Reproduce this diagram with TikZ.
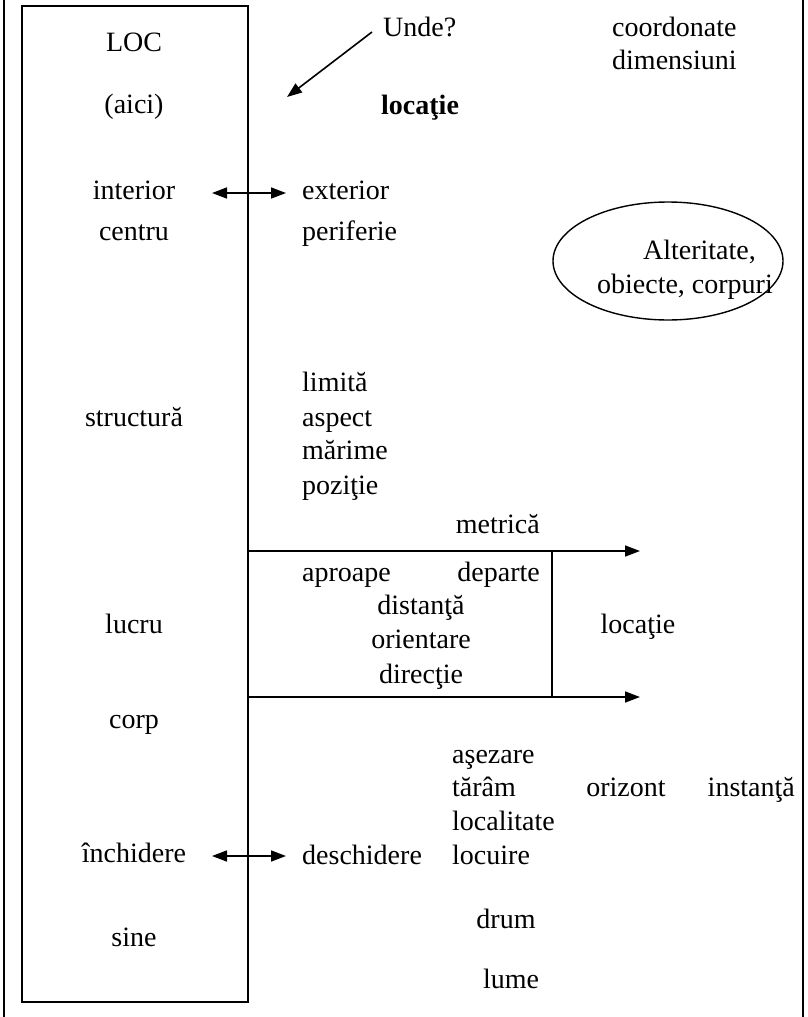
\documentclass[tikz,border=0pt]{standalone}
\usepackage{fontspec}
\setmainfont{Liberation Serif}
\usetikzlibrary{arrows.meta,shapes.geometric,positioning}
\tikzset{>={Triangle[length=15pt,width=11pt]}}
\tikzset{
  word/.style={inner sep=0pt, font=\fontsize{28}{33}\selectfont, text height=19pt, text depth=6pt},
  wleft/.style={word, anchor=west},
  wright/.style={word, anchor=east},
  pointer/.style={->, line width=1.6pt},
  twoway/.style={<->, line width=1.6pt}
}
\begin{document}
\begin{tikzpicture}[x=1pt,y=-1pt]
\useasboundingbox (0,0) rectangle (807,1017);
% outer frame
\draw[line width=1.2pt] (4,0) -- (4,1017);
\draw[line width=1.2pt] (803,0) -- (803,1017);
% LOC box
\draw[line width=1.6pt] (22,6) rectangle (248,1002);
\node[word] (loc) at (134,45) {LOC};
\node[word] (aici) at (134,107) {(aici)};
\node[word] (interior) at (134,193) {interior};
\node[word] (centru) at (134,234) {centru};
\node[word] (structura) at (134,420) {structură};
\node[word] (lucru) at (134,627) {lucru};
\node[word] (corp) at (134,722) {corp};
\node[word] (inchidere) at (134,856) {închidere};
\node[word] (sine) at (134,940) {sine};

% top right
\node[wleft] (unde) at (383,30) {Unde?};
\node[wleft] (coord) at (612,30) {coordonate};
\node[wleft] (dimens) at (612,63) {dimensiuni};
\node[wleft, font=\fontsize{28}{33}\selectfont\bfseries] (locatie) at (381,108) {locaţie};
\coordinate (undeA) at (372,32);
\coordinate (undeB) at (287,97);
\draw[pointer] (undeA) -- (undeB);

\node[wleft] (exterior) at (302,193) {exterior};
\node[wleft] (periferie) at (302,234) {periferie};
\coordinate (ieL) at (212,193);
\coordinate (ieR) at (286,193);
\draw[twoway] (ieL) -- (ieR);

% alteritate
\node[draw, ellipse, line width=1.4pt, minimum width=230pt, minimum height=118pt] (alter) at (668,261) {};
\node[wright] (alt1) at (756,253) {Alteritate,};
\node[wright] (alt2) at (773,287) {obiecte, corpuri};

% structura
\node[wleft] (limita) at (302,385) {limită};
\node[wleft] (aspect) at (302,420) {aspect};
\node[wleft] (marime) at (302,453) {mărime};
\node[wleft] (pozitie) at (302,488) {poziţie};

% metrica
\node[wright] (metrica) at (540,527) {metrică};
\coordinate (m1a) at (248,551);
\coordinate (m1b) at (640,551);
\coordinate (m2a) at (248,697);
\coordinate (m2b) at (640,697);
\coordinate (vtop) at (552,551);
\coordinate (vbot) at (552,697);
\draw[pointer] (m1a) -- (m1b);
\draw[pointer] (m2a) -- (m2b);
\draw[line width=1.6pt] (vtop) -- (vbot);
\node[wleft] (aproape) at (302,575) {aproape};
\node[wright] (departe) at (540,575) {departe};
\node[word] (distanta) at (421,608) {distanţă};
\node[word] (orient) at (421,642) {orientare};
\node[word] (directie) at (421,677) {direcţie};
\node[word] (locatie2) at (638,627) {locaţie};

% asezare
\node[wleft] (asezare) at (452,757) {aşezare};
\node[wleft] (taram) at (452,790) {tărâm};
\node[word] (orizont) at (626,790) {orizont};
\node[wright] (instanta) at (795,790) {instanţă};
\node[wleft] (localit) at (452,824) {localitate};
\node[wleft] (locuire) at (452,858) {locuire};
\node[wleft] (deschid) at (302,858) {deschidere};
\coordinate (idL) at (212,856);
\coordinate (idR) at (286,856);
\draw[twoway] (idL) -- (idR);
\node[word] (drum) at (506,922) {drum};
\node[word] (lume) at (511,982) {lume};
\end{tikzpicture}
\end{document}
